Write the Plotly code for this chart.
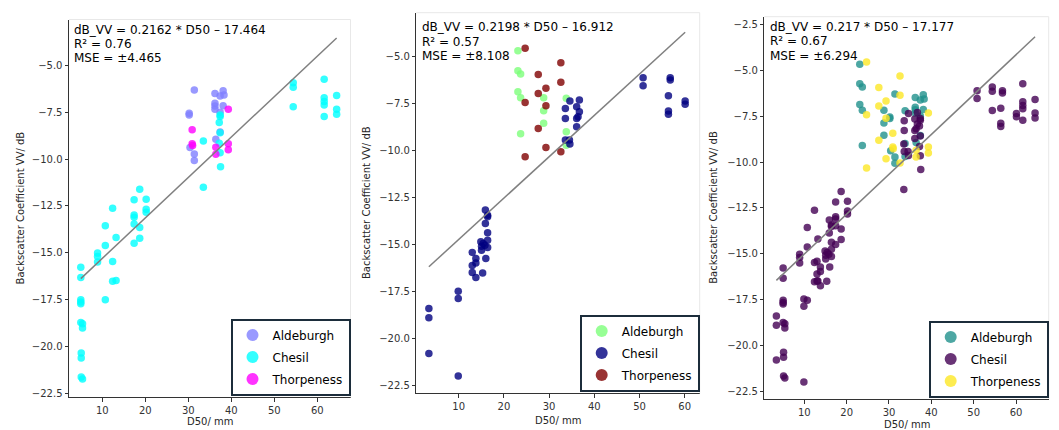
import plotly.graph_objects as go

# ---------------- data ----------------
# Sample set 1 (left panel)
ald1_d50 = [31.4, 36.2, 38.1, 37.4, 38.3, 36.2, 36.2, 36.2, 38.1, 37.4, 30.2, 30.2, 36.4, 37.4, 30.4, 31.4, 31.4]
ald1_vv = [-6.30, -6.48, -6.34, -6.62, -6.57, -7.01, -7.15, -7.33, -7.14, -7.49, -7.54, -7.63, -8.93, -8.55, -9.38, -9.72, -10.07]

che1_d50 = [33.5, 37.4, 37.4, 37.2, 37.4, 37.2, 37.4, 37.5, 33.5, 54.4, 54.4, 54.4, 61.6, 61.6, 61.6, 61.6, 61.6, 64.5, 64.5, 64.5,
            5.0, 5.0, 5.0, 5.0, 5.0, 5.0, 5.4, 5.4, 5.1, 5.1, 5.1, 5.4, 8.9, 8.9, 8.9, 10.7, 10.7, 10.7,
            12.4, 12.4, 12.4, 13.2, 13.2, 17.4, 17.4, 17.4, 17.4, 17.4, 18.7, 18.7, 18.7, 20.2, 20.2, 20.2]
che1_vv = [-9.02, -7.63, -7.72, -8.04, -8.58, -9.15, -9.65, -10.40, -11.50, -5.91, -6.15, -7.19, -5.73, -6.71, -6.92, -7.10, -7.72, -6.60, -7.33, -7.60,
           -15.77, -16.32, -17.52, -17.64, -17.73, -18.73, -18.80, -19.03, -20.36, -20.63, -21.65, -21.75, -15.02, -15.20, -15.50, -13.56, -14.62, -17.52,
           -12.62, -15.47, -16.52, -16.48, -14.19, -12.17, -12.98, -13.10, -13.47, -14.49, -11.60, -13.65, -14.22, -12.14, -12.67, -12.83]

tho1_d50 = [39.3, 30.9, 30.9, 31.0, 36.4, 36.4, 39.3, 39.3]
tho1_vv = [-7.33, -8.43, -9.18, -9.27, -9.36, -9.73, -9.18, -9.50]

# Sample set 2 (middle panel)
ald2_d50 = [23.1, 23.1, 23.7, 23.1, 23.7, 23.7, 28.8, 28.8, 28.8, 33.8, 33.8, 33.8]
ald2_vv = [-4.68, -5.74, -5.92, -6.86, -7.18, -9.10, -7.18, -7.87, -8.54, -7.21, -8.99, -9.70]

che2_d50 = [34.6, 36.7, 33.6, 36.1, 36.7, 36.4, 36.1, 33.6, 36.1, 33.6, 34.5, 34.6, 50.8, 50.8, 56.8, 56.8, 56.4, 56.4, 56.4, 60.1, 60.1,
            15.9, 16.4, 16.4, 15.9, 16.4, 16.4, 14.9, 15.4, 15.05, 15.8, 15.05, 16.4, 16.0, 13.0, 13.8, 13.8, 13.0, 13.0, 13.8, 15.3,
            9.9, 9.9, 3.4, 3.4, 3.4, 9.9]
che2_vv = [-7.36, -7.30, -7.75, -7.66, -7.93, -8.19, -8.28, -8.28, -8.72, -9.43, -9.43, -9.64, -6.12, -6.54, -6.12, -6.24, -7.07, -7.89, -8.06, -7.36, -7.53,
           -13.15, -13.42, -13.51, -13.86, -14.36, -14.75, -14.84, -14.93, -15.07, -15.02, -15.28, -15.14, -15.72, -15.40, -15.72, -15.96, -16.10, -16.47, -16.73, -16.49,
           -17.46, -17.85, -18.38, -18.88, -20.78, -21.97]

tho2_d50 = [24.7, 27.6, 27.6, 29.3, 24.7, 29.3, 27.6, 29.3, 24.7, 32.6, 32.6, 32.6]
tho2_vv = [-4.55, -5.94, -6.95, -6.68, -7.43, -7.61, -8.81, -9.82, -10.32, -5.32, -6.36, -10.05]

sites = ["Aldeburgh", "Chesil", "Thorpeness"]

# Linear fits (slope, intercept, R², MSE) for set 1, set 2 and both sets combined
fit_slope = [0.2162, 0.2198, 0.217]
fit_intercept = [-17.464, -16.912, -17.177]
fit_r2 = [0.76, 0.57, 0.67]
fit_mse = [4.465, 8.108, 6.294]

# ---------------- panel definitions ----------------
W, H = 1059, 430

def fx(p):
    return p / W

def fy(p):
    return 1 - p / H

panels = [
    dict(data=[(ald1_d50, ald1_vv), (che1_d50, che1_vv), (tho1_d50, tho1_vv)],
         colors=["#8080ff", "#00ffff", "#ff00ff"],  # cool
         box=(69, 350.5, 19.5, 397.3), xr=[2.256, 67.72], yr=[-22.73, -2.53],
         text_x=73.3, text_y=[30, 44.3, 58.3], ylab_x=20, xlab_y=421,
         leg=(350.5, 395.5)),
    dict(data=[(ald2_d50, ald2_vv), (che2_d50, che2_vv), (tho2_d50, tho2_vv)],
         colors=["#7dff7a", "#000080", "#800000"],  # jet
         box=(416.3, 699.7, 12.7, 393.3), xr=[0.62, 63.32], yr=[-22.89, -2.66],
         text_x=421.3, text_y=[27.3, 41.7, 56], ylab_x=366, xlab_y=420,
         leg=(699.7, 391.5)),
    dict(data=[(ald1_d50 + ald2_d50, ald1_vv + ald2_vv),
               (che1_d50 + che2_d50, che1_vv + che2_vv),
               (tho1_d50 + tho2_d50, tho1_vv + tho2_vv)],
         colors=["#21918c", "#440154", "#fde725"],  # viridis
         box=(764.3, 1048.7, 16.7, 399), xr=[0.55, 67.72], yr=[-22.90, -2.086],
         text_x=768.7, text_y=[26.7, 41.3, 56], ylab_x=714, xlab_y=424,
         leg=(1048.7, 397.5)),
]

FONT = "DejaVu Sans"
fig = go.Figure()
layout = dict(
    width=W, height=H, margin=dict(l=0, r=0, t=0, b=0),
    paper_bgcolor="white", plot_bgcolor="white",
    font=dict(family=FONT, size=10, color="#262626"),
    annotations=[], shapes=[],
)

for i, p in enumerate(panels):
    n = "" if i == 0 else str(i + 1)
    xa, ya = "x" + n, "y" + n
    leg = "legend" + n
    x0, x1, y0, y1 = p["box"]

    all_x = []
    for k, (xs, ys) in enumerate(p["data"]):
        all_x += xs
        fig.add_trace(go.Scatter(
            x=xs, y=ys, mode="markers", name=sites[k],
            xaxis=xa, yaxis=ya, legend=leg, legendgroup=f"{i}-{k}",
            marker=dict(size=7.5, color=p["colors"][k], opacity=0.8, line=dict(width=0)),
            hoverinfo="skip",
        ))

    # regression line over the sampled D50 range
    lx = [min(all_x), max(all_x)]
    ly = [fit_slope[i] * v + fit_intercept[i] for v in lx]
    fig.add_trace(go.Scatter(x=lx, y=ly, mode="lines", xaxis=xa, yaxis=ya,
                             line=dict(color="#808080", width=1.5),
                             showlegend=False, hoverinfo="skip"))

    axis_common = dict(showgrid=False, zeroline=False, showline=True,
                       linecolor="#333333", linewidth=1, ticks="outside",
                       ticklen=3.5, tickwidth=1, tickcolor="#333333",
                       tickfont=dict(size=10, color="#333333"))
    layout["xaxis" + n] = dict(domain=[fx(x0), fx(x1)], range=p["xr"],
                               anchor=ya, tick0=0, dtick=10, **axis_common)
    layout["yaxis" + n] = dict(domain=[fy(y1), fy(y0)], range=p["yr"],
                               anchor=xa, tick0=0, dtick=2.5, tickformat=".1f",
                               **axis_common)

    # faint top and right frame
    for (ax0, ay0, ax1, ay1) in [(0, 1, 1, 1), (1, 0, 1, 1)]:
        layout["shapes"].append(dict(type="line", xref=xa + " domain", yref=ya + " domain",
                                     x0=ax0, y0=ay0, x1=ax1, y1=ay1,
                                     line=dict(color="#e8e8e8", width=1)))

    # fit statistics
    lines = [f"dB_VV = {fit_slope[i]} * D50 – {abs(fit_intercept[i])}",
             f"R² = {fit_r2[i]}",
             f"MSE = ±{fit_mse[i]}"]
    for t, ty in zip(lines, p["text_y"]):
        layout["annotations"].append(dict(
            text=t, x=fx(p["text_x"]), y=fy(ty), xref="paper", yref="paper",
            xanchor="left", yanchor="middle", showarrow=False,
            font=dict(family=FONT, size=12, color="black"), borderpad=0))

    # axis titles
    layout["annotations"].append(dict(
        text="Backscatter Coefficient VV/ dB", x=fx(p["ylab_x"]), y=fy((y0 + y1) / 2),
        xref="paper", yref="paper", textangle=-90, showarrow=False,
        xanchor="center", yanchor="middle", font=dict(size=10, color="#262626")))
    layout["annotations"].append(dict(
        text="D50/ mm", x=fx((x0 + x1) / 2), y=fy(p["xlab_y"]),
        xref="paper", yref="paper", showarrow=False,
        xanchor="center", yanchor="middle", font=dict(size=10, color="#262626")))

    layout[leg] = dict(
        x=fx(p["leg"][0]), y=fy(p["leg"][1]), xanchor="right", yanchor="bottom",
        xref="paper", yref="paper",
        bgcolor="white", bordercolor="#1c2d3b", borderwidth=2,
        font=dict(family=FONT, size=12, color="black"),
        itemsizing="constant", tracegroupgap=3, traceorder="grouped",
    )

fig.update_layout(**layout)
fig.write_html("out.html")
